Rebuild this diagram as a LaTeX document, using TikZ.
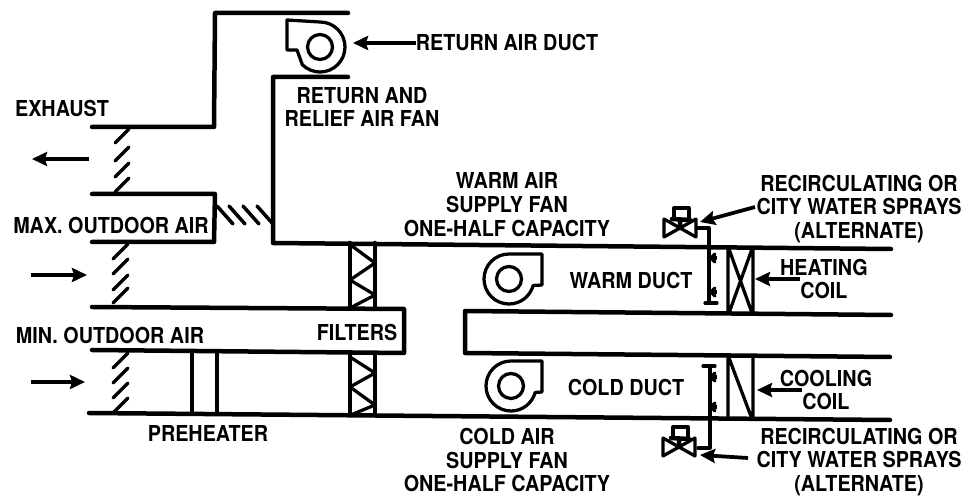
\documentclass[tikz,border=0pt]{standalone}
\usepackage{fontspec}
\setmainfont[FakeStretch=0.9]{TeX Gyre Heros}
\usetikzlibrary{arrows.meta}
\tikzset{>=Stealth,every node/.style={font=\fontsize{12.5}{13.6}\selectfont\bfseries,inner sep=0pt,align=center},
duct/.style={line width=.9mm,line cap=round,line join=round},
unit/.style={line width=.65mm,line cap=round,line join=round},
blade/.style={line width=.7mm,line cap=round},
flow/.style={line width=.75mm,-{Stealth[length=3mm,width=2.8mm,inset=.4mm]}}}
\begin{document}
\begin{tikzpicture}[x=.02cm,y=-.02cm]
\useasboundingbox (0,0) rectangle (967,499);
% ducts
\draw[duct] (348,13)--(215,13)--(214,127)--(92,127);
\draw[duct] (348,77)--(273,77)--(273,243)--(891,249);
\draw[duct] (92,194)--(215,194)--(214,242)--(92,242);
\draw[duct] (92,307)--(404,309)--(404,353)--(92,350);
\draw[duct] (89,413)--(890,420);
\draw[duct] (891,315)--(465,311)--(465,353)--(890,357);
% fans
\draw[unit] (320,47) circle (12.5);
\draw[unit] (320,22) arc (-90:135:25) --(297,50)--(287,50)--(287,20)--cycle;
\foreach \fanx/\fany in {509/279,511/386}{
\draw[unit] (\fanx,\fany) circle (12.5);
\draw[unit] (\fanx,\fany-25) arc (270:15:25) --(542,\fany+6)--(542,\fany-25)--cycle;}
% dampers
\foreach \bly in {129,147,163,178}{\draw[blade] (115,\bly+14)--(129,\bly);}
\foreach \bly in {244,259,275,288}{\draw[blade] (113,\bly+15)--(128,\bly);}
\foreach \bly in {353,368,383,398}{\draw[blade] (113,\bly+15)--(128,\bly);}
\foreach \blx in {217,229,243,257}{\draw[blade] (\blx,206)--(\blx+16,224);}
% filters
\draw[duct] (350,243)--(350,308) (375,243)--(375,308);
\draw[duct] (350,353)--(350,414) (375,353)--(375,415);
\draw[unit] (352,246)--(375,263)--(350,280)--(375,295)--(352,307);
\draw[unit] (350,357)--(375,373)--(350,387)--(375,405)--(353,414);
% preheater and coils
\draw[unit] (192,351)--(192,414) (217,351)--(217,414);
\draw[unit] (728,248)--(728,313) (753,248)--(753,313) (729,249)--(752,313) (752,249)--(729,313);
\draw[unit] (728,357)--(728,419) (753,357)--(753,419) (729,358)--(752,419);
% sprays
\draw[unit] (697,228)--(709,228)--(709,303) (705,303)--(717,303);
\draw[unit] (698,448)--(710,448)--(710,366) (703,366)--(715,366);
\foreach \nzy in {258,292,377,407}{\draw[blade] (715,\nzy-4)--(711,\nzy)--(715,\nzy+4);\fill (713,\nzy-2) rectangle (717,\nzy+2);}
\foreach \vlvx/\vlvy in {680/228,679/447}{
\draw[unit] (\vlvx,\vlvy)--(\vlvx-16,\vlvy-9)--(\vlvx-16,\vlvy+9)--cycle (\vlvx,\vlvy)--(\vlvx+16,\vlvy-9)--(\vlvx+16,\vlvy+9)--cycle;
\draw[unit] (\vlvx-6,\vlvy-9)--(\vlvx-6,\vlvy-20)--(\vlvx+9,\vlvy-20)--(\vlvx+9,\vlvy-9);
\draw[duct] (\vlvx-8,\vlvy-9)--(\vlvx+10,\vlvy-8) (\vlvx,\vlvy-8)--(\vlvx,\vlvy);}
% labels
\node (exhaust) at (62,108){EXHAUST};
\node (maxair) at (111,225){MAX. OUTDOOR AIR};
\node (minair) at (110,335){MIN. OUTDOOR AIR};
\node (retduct) at (507,43){RETURN AIR DUCT};
\node (retfan) at (362,107){RETURN AND\\RELIEF AIR FAN};
\node (warmfan) at (507,205){WARM AIR\\SUPPLY FAN\\ONE-HALF CAPACITY};
\node (coldfan) at (507,460){COLD AIR\\SUPPLY FAN\\ONE-HALF CAPACITY};
\node (filters) at (357,332){FILTERS};
\node (preheat) at (208,433){PREHEATER};
\node (warmduct) at (631,280){WARM DUCT};
\node (coldduct) at (626,387){COLD DUCT};
\node (heatcoil) at (824,279){HEATING\\COIL};
\node (coolcoil) at (826,390){COOLING\\COIL};
\node (sprayup) at (859,209){RECIRCULATING OR\\CITY WATER SPRAYS\\(ALTERNATE)};
\node (spraydn) at (859,462){RECIRCULATING OR\\CITY WATER SPRAYS\\(ALTERNATE)};
% arrows
\coordinate (exout) at (32,159);\coordinate (exin) at (89,159);
\coordinate (maxout) at (31,275);\coordinate (maxin) at (87,275);
\coordinate (minout) at (31,382);\coordinate (minin) at (85,382);
\coordinate (fantip) at (353,43);
\coordinate (heatlead) at (800,279);\coordinate (heattip) at (755,279);
\coordinate (coollead) at (802,390);\coordinate (cooltip) at (757,390);
\coordinate (upstart) at (755,207);\coordinate (uptip) at (700,222);
\coordinate (dnstart) at (748,458);\coordinate (dntip) at (700,455);
\draw[flow] (exin)--(exout);\draw[flow] (maxout)--(maxin);\draw[flow] (minout)--(minin);
\draw[flow] (retduct.west)--(fantip);
\draw[flow] (heatlead)--(heattip);\draw[flow] (coollead)--(cooltip);
\draw[flow] (upstart)--(uptip);\draw[flow] (dnstart)--(dntip);
\end{tikzpicture}
\end{document}
